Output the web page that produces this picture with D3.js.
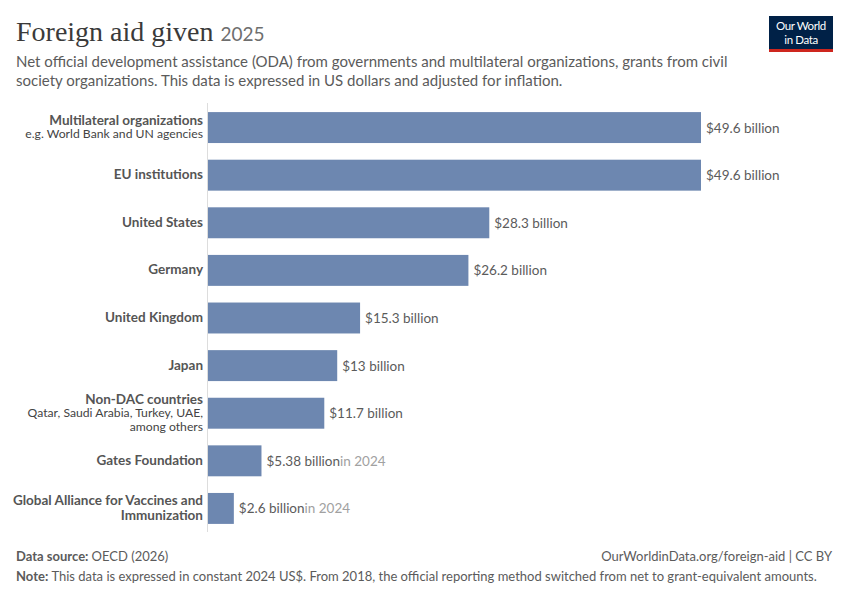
<!DOCTYPE html>
<html>
<head>
<meta charset="utf-8">
<script src="https://cdn.jsdelivr.net/npm/d3@7"></script>
<style>
  body { margin: 0; background: #fff; }
  svg { font-family: Lato, "Noto Sans", sans-serif; }
</style>
</head>
<body>
<svg id="chart" width="850" height="600"></svg>
<script>
let names = [
    "Multilateral organizations",
    "EU institutions",
    "United States",
    "Germany",
    "United Kingdom",
    "Japan",
    "Non-DAC countries",
    "Gates Foundation",
    "Global Alliance for Vaccines and Immunization"
]
let values = [49.6, 49.6, 28.3, 26.2, 15.3, 13, 11.7, 5.38, 2.6]
let valueLabels = ["$49.6 billion", "$49.6 billion", "$28.3 billion", "$26.2 billion",
    "$15.3 billion", "$13 billion", "$11.7 billion", "$5.38 billion", "$2.6 billion"]
let yearNotes = ["", "", "", "", "", "", "", "in 2024", "in 2024"]
// label lines: [text, bold?]
let labelLines = [
    [["Multilateral organizations", true], ["e.g. World Bank and UN agencies", false]],
    [["EU institutions", true]],
    [["United States", true]],
    [["Germany", true]],
    [["United Kingdom", true]],
    [["Japan", true]],
    [["Non-DAC countries", true], ["Qatar, Saudi Arabia, Turkey, UAE,", false], ["among others", false]],
    [["Gates Foundation", true]],
    [["Global Alliance for Vaccines and", true], ["Immunization", true]]
]

let data = names.map((n, i) => ({
    name: n, value: values[i], label: valueLabels[i], note: yearNotes[i], lines: labelLines[i]
}))

let svg = d3.select("#chart")

// header
svg.append("text")
    .attr("x", 16).attr("y", 41)
    .attr("font-family", "'Liberation Serif', 'DejaVu Serif', serif")
    .attr("font-size", 28)
    .attr("fill", "#3a3a3a")
    .text("Foreign aid given")
    .append("tspan")
    .attr("font-family", "Lato, sans-serif")
    .attr("font-size", 19)
    .attr("fill", "#6e6e6e")
    .attr("dx", 7)
    .text("2025")

let subtitle = ["Net official development assistance (ODA) from governments and multilateral organizations, grants from civil",
    "society organizations. This data is expressed in US dollars and adjusted for inflation."]
svg.selectAll(".sub").data(subtitle).enter().append("text")
    .attr("x", 16).attr("y", (d, i) => 67 + i * 19)
    .attr("font-size", 15).attr("fill", "#5b5b5b")
    .text(d => d)

// logo
let logo = svg.append("g").attr("transform", "translate(769, 16)")
logo.append("rect").attr("width", 64).attr("height", 36).attr("fill", "#002147")
logo.append("rect").attr("y", 33).attr("width", 64).attr("height", 3).attr("fill", "#ce261e")
logo.selectAll(".lg").data(["Our World", "in Data"]).enter().append("text")
    .attr("x", 32).attr("y", (d, i) => 14 + i * 14)
    .attr("text-anchor", "middle").attr("font-size", 11.5).attr("fill", "#fff")
    .attr("letter-spacing", -0.4)
    .text(d => d)

// scales
let x = d3.scaleLinear()
    .domain([0, d3.max(values)])
    .range([208, 701])

let y = d3.scaleBand()
    .domain(names)
    .range([104, 532])
    .paddingInner(0.35)
    .paddingOuter(0.17)

// axis line
svg.append("line")
    .attr("x1", 207.5).attr("x2", 207.5)
    .attr("y1", 103).attr("y2", 532)
    .attr("stroke", "#ddd").attr("stroke-width", 1)

let rows = svg.selectAll(".row").data(data).enter().append("g")

rows.append("rect")
    .attr("x", x(0))
    .attr("y", d => y(d.name))
    .attr("width", d => x(d.value) - x(0))
    .attr("height", y.bandwidth())
    .attr("fill", "#6d87b0")

let vl = rows.append("text")
    .attr("x", d => x(d.value) + 5)
    .attr("y", d => y(d.name) + y.bandwidth() / 2 + 5)
    .attr("font-size", 13.5).attr("fill", "#5b5b5b")
    .text(d => d.label)
vl.append("tspan")
    .attr("fill", "#a1a1a1")
    .text(d => d.note)

// category labels
rows.each(function (d) {
    let g = d3.select(this)
    let cy = y(d.name) + y.bandwidth() / 2
    let heights = d.lines.map(l => l[1] ? 15 : 13.5)
    let total = d3.sum(heights)
    let acc = cy - total / 2
    d.lines.forEach((l, i) => {
        acc += heights[i]
        g.append("text")
            .attr("x", 203)
            .attr("y", acc - 3.5)
            .attr("text-anchor", "end")
            .attr("font-size", l[1] ? 13.5 : 12.2)
            .attr("font-weight", l[1] ? 700 : 400)
            .attr("fill", l[1] ? "#555" : "#444")
            .text(l[0])
    })
})

// footer
let src = svg.append("text").attr("x", 16).attr("y", 561).attr("font-size", 13).attr("fill", "#5b5b5b")
src.append("tspan").attr("font-weight", 700).text("Data source: ")
src.append("tspan").text("OECD (2026)")

svg.append("text").attr("x", 832).attr("y", 561).attr("text-anchor", "end")
    .attr("font-size", 13).attr("fill", "#5b5b5b")
    .text("OurWorldinData.org/foreign-aid | CC BY")

let note = svg.append("text").attr("x", 16).attr("y", 581).attr("font-size", 13).attr("fill", "#5b5b5b")
note.append("tspan").attr("font-weight", 700).text("Note: ")
note.append("tspan").text("This data is expressed in constant 2024 US$. From 2018, the official reporting method switched from net to grant-equivalent amounts.")
</script>
</body>
</html>
